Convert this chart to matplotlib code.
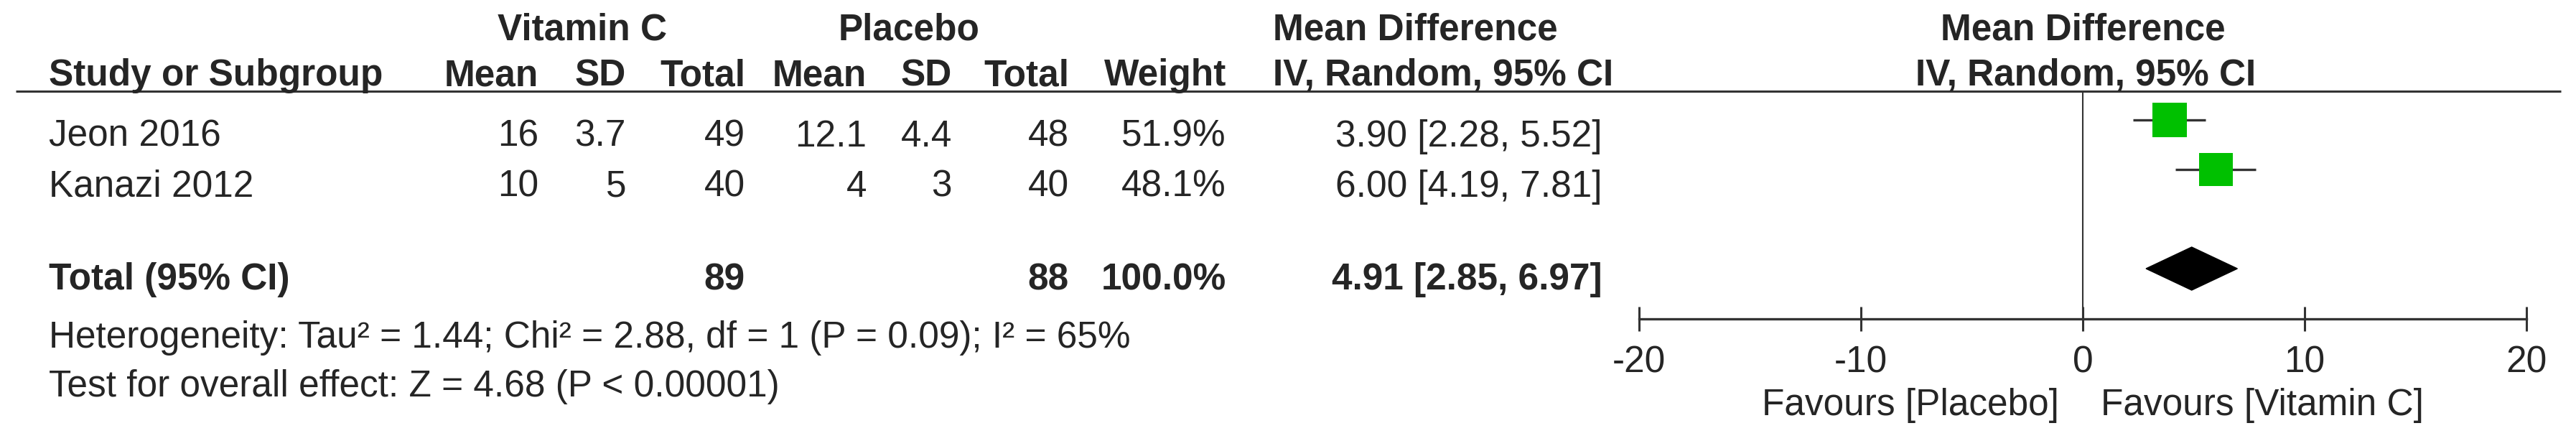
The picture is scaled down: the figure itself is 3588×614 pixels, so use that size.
import matplotlib
matplotlib.use("Agg")
import matplotlib.pyplot as plt
import numpy as np

plt.rcParams['font.family'] = ['Liberation Sans', 'DejaVu Sans']
plt.rcParams['axes.unicode_minus'] = False

#########################
# data
studies = ["Jeon 2016", "Kanazi 2012"]
vitc_mean = [16, 10]
vitc_sd = [3.7, 5]
vitc_total = [49, 40]
plac_mean = [12.1, 4]
plac_sd = [4.4, 3]
plac_total = [48, 40]
weights = [51.9, 48.1]
md = [3.90, 6.00]
ci_low = [2.28, 4.19]
ci_high = [5.52, 7.81]

total_vitc = 89
total_plac = 88
total_weight = 100.0
total_md = 4.91
total_low = 2.85
total_high = 6.97

heterogeneity = "Heterogeneity: Tau² = 1.44; Chi² = 2.88, df = 1 (P = 0.09); I² = 65%"
overall = "Test for overall effect: Z = 4.68 (P < 0.00001)"
x_ticks = [-20, -10, 0, 10, 20]
fav_left = "Favours [Placebo]"
fav_right = "Favours [Vitamin C]"

W, H = 3588, 614
FS = 37
TXT = '#252525'
LINE = '#333333'
GREEN = '#00c000'

fig = plt.figure(figsize=(W / 100, H / 100), dpi=100)

# overlay axes in pixel coords for the table part
ax_t = fig.add_axes([0, 0, 1, 1])
ax_t.set_xlim(0, W)
ax_t.set_ylim(H, 0)
ax_t.axis('off')

def put(x, y, s, ha='right', bold=False):
    ax_t.text(x, y, s, ha=ha, va='baseline', fontsize=FS, color=TXT,
              fontweight='bold' if bold else 'normal')

# header rows
put(811, 55, "Vitamin C", ha='center', bold=True)
put(1266, 55, "Placebo", ha='center', bold=True)
put(1773, 55, "Mean Difference", ha='left', bold=True)
put(2901, 55, "Mean Difference", ha='center', bold=True)

put(68, 119, "Study or Subgroup", ha='left', bold=True)
cols = [750, 872, 1038, 1207, 1326, 1489, 1708]
for x, name in zip(cols, ["Mean", "SD", "Total", "Mean", "SD", "Total", "Weight"]):
    put(x, 119, name, bold=True)
put(1773, 119, "IV, Random, 95% CI", ha='left', bold=True)
put(2905, 119, "IV, Random, 95% CI", ha='center', bold=True)
ax_t.plot([22, 3567], [127, 127], color=LINE, lw=2.2, solid_capstyle='butt')

# study rows
base = [204, 274]
for i, s in enumerate(studies):
    y = base[i]
    put(68, y, s, ha='left')
    vals = ["%g" % vitc_mean[i], "%g" % vitc_sd[i], "%d" % vitc_total[i],
            "%g" % plac_mean[i], "%g" % plac_sd[i], "%d" % plac_total[i],
            "%.1f%%" % weights[i]]
    for x, v in zip(cols, vals):
        put(x, y, v)
    put(2232, y, "%.2f [%.2f, %.2f]" % (md[i], ci_low[i], ci_high[i]))

# total row
put(68, 403, "Total (95% CI)", ha='left', bold=True)
put(cols[2], 403, "%d" % total_vitc, bold=True)
put(cols[5], 403, "%d" % total_plac, bold=True)
put(cols[6], 403, "%.1f%%" % total_weight, bold=True)
put(2232, 403, "%.2f [%.2f, %.2f]" % (total_md, total_low, total_high), bold=True)

put(68, 484, heterogeneity, ha='left')
put(68, 552, overall, ha='left')

put(2868, 578, fav_left)
put(2926, 578, fav_right, ha='left')

# forest plot axes: -20..20 spans px 2283..3519, rows 69 px apart
row0, step = 167, 69
ax = fig.add_axes([2283 / W, 1 - 444 / H, (3519 - 2283) / W, (444 - 127) / H])
ax.set_xlim(x_ticks[0], x_ticks[-1])
ax.set_ylim((444 - row0) / step, (127 - row0) / step)
ax.patch.set_alpha(0)
for sp in ['top', 'left', 'right']:
    ax.spines[sp].set_visible(False)
ax.spines['bottom'].set_linewidth(2.4)
ax.spines['bottom'].set_color(LINE)
ax.set_yticks([])
ax.set_xticks(x_ticks)
ax.set_xticklabels(["%d" % t for t in x_ticks])
ax.tick_params(axis='x', direction='inout', length=25, width=2.2, pad=14,
               labelsize=FS, colors=LINE, labelcolor=TXT)

ax.axvline(0, color=LINE, lw=1.5)

rows = np.arange(len(studies))
ax.hlines(rows, ci_low, ci_high, color=LINE, lw=2.4, zorder=2)
side = 48 * 72 / 100
sizes = [side ** 2 * w / weights[0] for w in weights]
ax.scatter(md, rows, s=sizes, marker='s', color=GREEN, linewidths=0, zorder=3)

t_row = 3
h = 30 / step
ax.fill([total_low, total_md, total_high, total_md],
        [t_row, t_row - h, t_row, t_row + h], color='black', zorder=3)

fig.savefig("out.png", dpi=100)
